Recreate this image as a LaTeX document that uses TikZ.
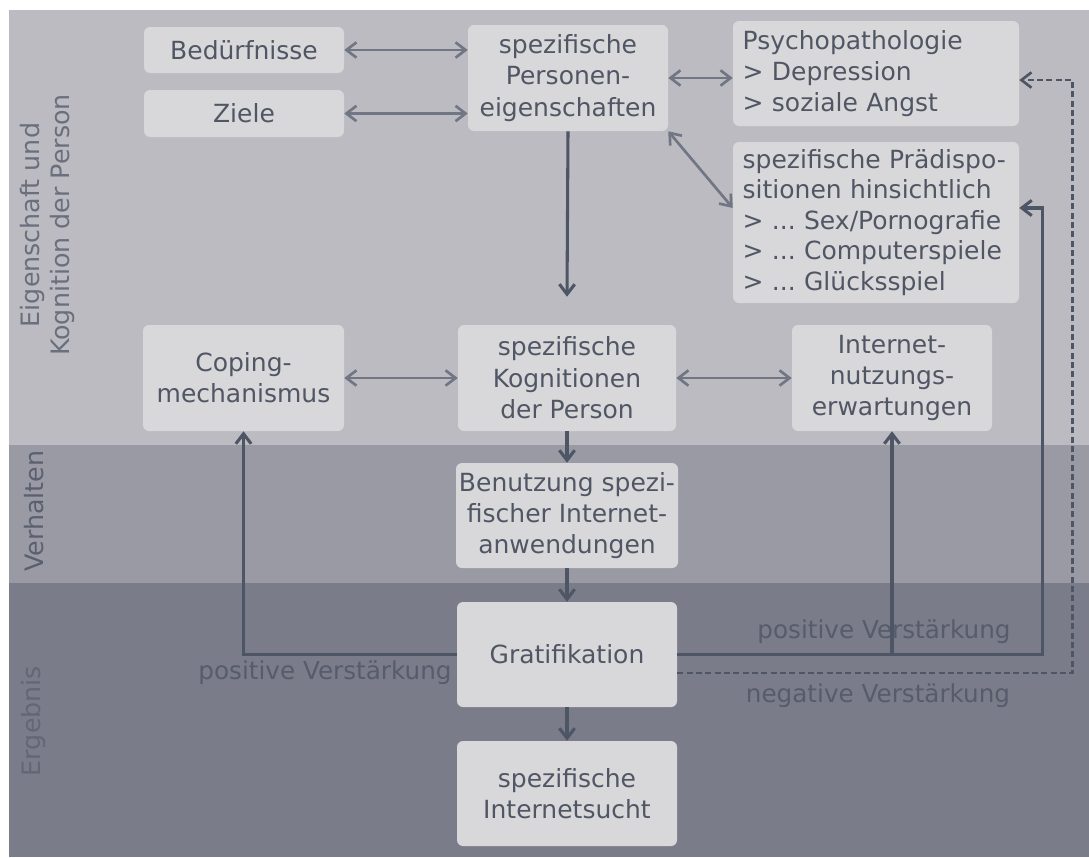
\documentclass[tikz,border=0pt]{standalone}
\usepackage{fontspec}
\setmainfont{DejaVu Sans}
\usetikzlibrary{arrows.meta,calc}
\definecolor{bandA}{RGB}{188,187,193}
\definecolor{bandB}{RGB}{154,154,164}
\definecolor{bandC}{RGB}{122,124,137}
\definecolor{boxc}{RGB}{216,216,219}
\definecolor{txt}{RGB}{80,86,100}
\definecolor{larrc}{RGB}{112,118,132}
\definecolor{darrc}{RGB}{78,85,101}
\definecolor{sideA}{RGB}{106,111,126}
\definecolor{sideB}{RGB}{90,96,112}
\definecolor{sideC}{RGB}{98,103,118}
\definecolor{labc}{RGB}{86,92,108}
\frenchspacing
\begin{document}
\begin{tikzpicture}[x=0.75pt,y=-0.75pt,
  >={Straight Barb[length=7.5pt,width=11.5pt]},
  box/.style={fill=boxc, rounded corners=4.5pt, inner sep=0pt, align=center, text=txt,
    font=\fontsize{18.75}{23.5}\selectfont},
  lbox/.style={box, align=left, text width=200pt, inner xsep=7.25pt},
  larr/.style={draw=larrc, line width=2pt},
  darr/.style={draw=darrc, line width=2.3pt},
  dsh/.style={draw=darrc, line width=2pt, dash pattern=on 4.5pt off 2.5pt},
  lbl/.style={font=\fontsize{18.5}{22}\selectfont, text=labc, inner sep=0pt},
  side/.style={rotate=90, font=\fontsize{19}{22.5}\selectfont, inner sep=0pt, align=center}]
\useasboundingbox (0,0) rectangle (1089,857);
\fill[white] (0,0) rectangle (1089,857);
\fill[bandA] (9,10) rectangle (1089,445);
\fill[bandB] (9,445) rectangle (1089,583);
\fill[bandC] (9,583) rectangle (1089,857);

% side labels
\node[side, text=sideA] (sA) at (48,225) {Eigenschaft und\\Kognition der Person};
\node[side, text=sideB] (sB) at (34,511) {Verhalten};
\node[side, text=sideC] (sC) at (34,721) {Ergebnis};

% boxes
\node[box, minimum width=150pt, minimum height=34.5pt] (bed) at (244,50) {Bedürfnisse};
\node[box, minimum width=150pt, minimum height=35.25pt] (ziele) at (244,113.5) {Ziele};
\node[box, minimum width=150pt, minimum height=79.5pt] (pers) at (568,78) {spezifische\\Personen-\\eigenschaften};
\node[lbox, minimum height=78.75pt] (psy) at (876,73.5) {Psychopathologie\\> Depression\\> soziale Angst};
\node[lbox, minimum height=120.75pt, font=\fontsize{18.75}{22.9}\selectfont] (prae) at (876,222.5) {spezifische Prädispo-\\sitionen hinsichtlich\\> ... Sex/Pornografie\\> ... Computerspiele\\> ... Glücksspiel};
\node[box, minimum width=150.75pt, minimum height=79.5pt] (coping) at (243.5,378) {Coping-\\mechanismus};
\node[box, minimum width=163.5pt, minimum height=79.5pt] (kog) at (567,378) {spezifische\\Kognitionen\\der Person};
\node[box, minimum width=150pt, minimum height=79.5pt] (inet) at (892,378) {Internet-\\nutzungs-\\erwartungen};
\node[box, minimum width=166.5pt, minimum height=78.75pt] (benu) at (567,515.5) {Benutzung spezi-\\fischer Internet-\\anwendungen};
\node[box, minimum width=165pt, minimum height=78.75pt] (grat) at (567,654.5) {Gratifikation};
\node[box, minimum width=165pt, minimum height=78.75pt] (sucht) at (567,793.5) {spezifische\\Internetsucht};

% labels
\node[lbl] (l1) at (325,673) {positive Verstärkung};
\node[lbl] (l2) at (884,632) {positive Verstärkung};
\node[lbl] (l3) at (878,696) {negative Verstärkung};

% connectors
\draw[larr,<->] (bed.east) -- (bed.east -| pers.west);
\draw[larr,<->] (ziele.east) -- (ziele.east -| pers.west);
\draw[larr,<->] (pers.east) -- (pers.east -| psy.west);
\draw[larr,<->] (pers.south east) -- ([yshift=10.9pt]prae.west);
\draw[darr,->] (pers.south) -- ([yshift=21pt]kog.north);
\draw[larr,<->] (coping.east) -- (kog.west);
\draw[larr,<->] (kog.east) -- (inet.west);
\draw[darr,->] (kog.south) -- (benu.north);
\draw[darr,->] (benu.south) -- (grat.north);
\draw[darr,->] (grat.south) -- (sucht.north);
\draw[darr,->] (grat.west) -| (coping.south);
\draw[darr,->] (grat.east) -| (inet.south);
\draw[darr,->] (grat.east) -- ++(365,0) |- ([yshift=10.9pt]prae.east);
\draw[dsh,->] ([yshift=-13.9pt]grat.east) -- ++(395,0) |- ([yshift=-4.9pt]psy.east);
\end{tikzpicture}
\end{document}
